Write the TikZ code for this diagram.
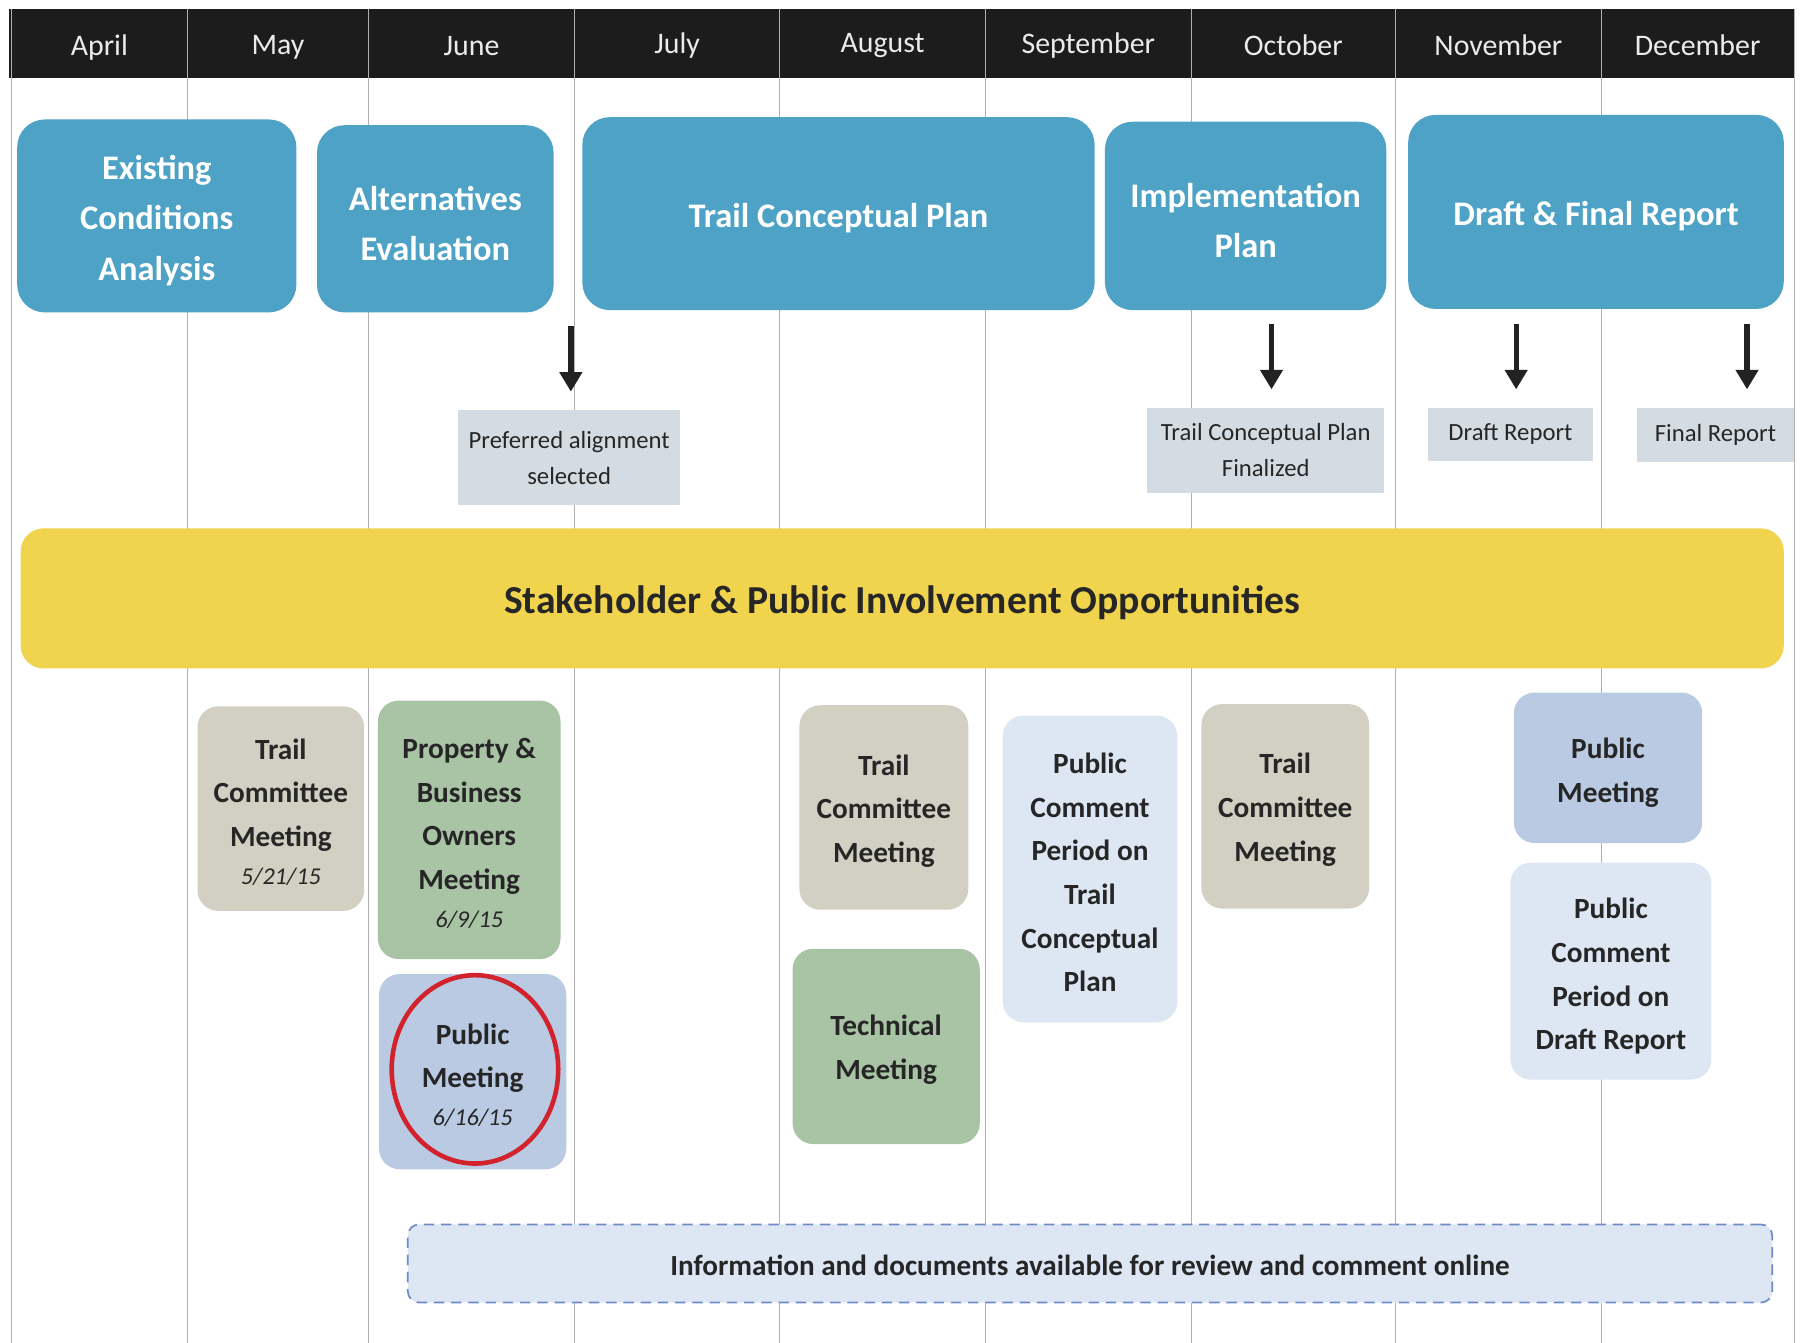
\documentclass[tikz,border=0pt]{standalone}
\usepackage{fontspec}
\setmainfont{Carlito}
\usetikzlibrary{arrows.meta,shapes.geometric}
\definecolor{hdr}{RGB}{28,28,28}
\definecolor{gridc}{RGB}{175,175,175}
\definecolor{phaseblue}{RGB}{78,162,197}
\definecolor{milegray}{RGB}{212,220,227}
\definecolor{band}{RGB}{241,212,78}
\definecolor{tcmc}{RGB}{209,208,194}
\definecolor{grnc}{RGB}{168,196,165}
\definecolor{pmc}{RGB}{186,202,227}
\definecolor{pcpc}{RGB}{221,231,244}
\definecolor{onl}{RGB}{221,231,244}
\definecolor{onlb}{RGB}{112,138,200}
\definecolor{ink}{RGB}{38,38,38}
\definecolor{redc}{RGB}{210,35,45}
\definecolor{arrc}{RGB}{34,34,34}
\begin{document}
\begin{tikzpicture}[x=1pt,y=-1pt,
  month/.style={text=white!92!black, font=\fontsize{26}{30}\selectfont, inner sep=0},
  gridline/.style={draw=gridc, line width=1pt},
  phase/.style={rounded corners=24pt, fill=phaseblue, inner sep=0},
  ptxt/.style={text=white, font=\bfseries\fontsize{30}{44}\selectfont, align=center, inner sep=0, yshift=-4pt},
  mile/.style={fill=milegray, text=ink, font=\fontsize{21.5}{31}\selectfont, align=center, inner sep=0},
  bandbox/.style={rounded corners=20pt, fill=band, inner sep=0},
  btxt/.style={text=ink, font=\bfseries\fontsize{34.5}{40}\selectfont, inner sep=0, yshift=-4pt},
  meet/.style={rounded corners=18pt, inner sep=0},
  mtxt/.style={text=ink, font=\bfseries\fontsize{25.5}{38}\selectfont, align=center, inner sep=0, yshift=-3pt},
  tcm/.style={meet, fill=tcmc},
  grn/.style={meet, fill=grnc},
  pmb/.style={meet, fill=pmc},
  pcp/.style={meet, fill=pcpc},
  otxt/.style={text=ink, font=\bfseries\fontsize{25.4}{30}\selectfont, inner sep=0, yshift=-2pt},
  arr/.style={draw=arrc, line width=4.6pt, -{Triangle[width=19pt,length=17pt]}},
]
\useasboundingbox (0,0) rectangle (1568,1169);
\fill[white] (0,0) rectangle (1568,1169);

% header band
\fill[hdr] (8,8) rectangle (1562,68);
% grid lines
\foreach \gx in {10,163,321,500,679,858,1037,1215,1394,1562}
  \draw[gridline] (\gx,8) -- (\gx,1169);

% month labels
\node[month] (m1) at (86.5,41) {April};
\node[month] (m2) at (242,41) {May};
\node[month] (m3) at (410.5,40) {June};
\node[month] (m4) at (589.5,40) {July};
\node[month] (m5) at (768.5,40) {August};
\node[month] (m6) at (947.5,39.5) {September};
\node[month] (m7) at (1126,39.5) {October};
\node[month] (m8) at (1304.5,39.5) {November};
\node[month] (m9) at (1478,39.5) {December};

% phases
\node[phase, minimum width=243pt, minimum height=168pt, label={[ptxt]center:{Existing\\Conditions\\Analysis}}] (eca) at (136.5,188) {};
\node[phase, minimum width=206pt, minimum height=163pt, label={[ptxt]center:{Alternatives\\Evaluation}}] (alt) at (379,190.5) {};
\node[phase, minimum width=446pt, minimum height=168pt, label={[ptxt]center:{Trail Conceptual Plan}}] (tcp) at (730,186) {};
\node[phase, minimum width=245pt, minimum height=164pt, label={[ptxt]center:{Implementation\\Plan}}] (imp) at (1084.5,188) {};
\node[phase, minimum width=327pt, minimum height=169pt, label={[ptxt]center:{Draft \& Final Report}}] (dfr) at (1389.5,184.5) {};

% milestones
\node[mile, minimum width=193pt, minimum height=83pt] (pref) at (495.5,398.5) {Preferred alignment\\selected};
\node[mile, minimum width=206pt, minimum height=74pt] (tcpf) at (1102,392) {Trail Conceptual Plan\\Finalized};
\node[mile, minimum width=144pt, minimum height=46pt] (dr) at (1315,378) {Draft Report};
\node[mile, minimum width=137pt, minimum height=47pt] (fr) at (1493.5,378.5) {Final Report};

% arrows
\coordinate (a1s) at (497,284);  \coordinate (a1e) at (497,341);
\coordinate (a2s) at (1107,282); \coordinate (a2e) at (1107,339);
\coordinate (a3s) at (1320,282); \coordinate (a3e) at (1320,339);
\coordinate (a4s) at (1521,282); \coordinate (a4e) at (1521,339);
\draw[arr] (a1s) -- (a1e);
\draw[arr] (a2s) -- (a2e);
\draw[arr] (a3s) -- (a3e);
\draw[arr] (a4s) -- (a4e);

% stakeholder band
\node[bandbox, minimum width=1535pt, minimum height=122pt, label={[btxt]center:{Stakeholder \& Public Involvement Opportunities}}] (band) at (785.5,521) {};

% meetings
\node[tcm, minimum width=145pt, minimum height=178pt, label={[mtxt]center:{Trail\\Committee\\Meeting\\[-5pt]{\mdseries\itshape\fontsize{21}{24}\selectfont 5/21/15}}}] (tc1) at (244.5,704) {};
\node[grn, minimum width=159pt, minimum height=225pt, label={[mtxt]center:{Property \&\\Business\\Owners\\Meeting\\[-5pt]{\mdseries\itshape\fontsize{21}{24}\selectfont 6/9/15}}}] (pbo) at (408.5,722.5) {};
\node[pmb, minimum width=163pt, minimum height=170pt, label={[mtxt]center:{Public\\Meeting\\[-5pt]{\mdseries\itshape\fontsize{21}{24}\selectfont 6/16/15}}}] (pm1) at (411.5,933) {};
\node[ellipse, draw=redc, line width=4pt, minimum width=145pt, minimum height=164pt, inner sep=0] (ring) at (413.5,931) {};
\node[tcm, minimum width=147pt, minimum height=178pt, label={[mtxt]center:{Trail\\Committee\\Meeting}}] (tc2) at (769.5,703) {};
\node[grn, minimum width=163pt, minimum height=170pt, label={[mtxt]center:{Technical\\Meeting}}] (tm) at (771.5,911) {};
\node[pcp, minimum width=152pt, minimum height=267pt, label={[mtxt]center:{Public\\Comment\\Period on\\Trail\\Conceptual\\Plan}}] (pcp1) at (949,756.5) {};
\node[tcm, minimum width=146pt, minimum height=178pt, label={[mtxt]center:{Trail\\Committee\\Meeting}}] (tc3) at (1119,702) {};
\node[pmb, minimum width=164pt, minimum height=131pt, label={[mtxt, yshift=-1pt]center:{Public\\Meeting}}] (pm2) at (1400,668.5) {};
\node[pcp, minimum width=175pt, minimum height=189pt, label={[mtxt, yshift=-1.5pt]center:{Public\\Comment\\Period on\\Draft Report}}] (pcp2) at (1402.5,845.5) {};

% online box
\node[rounded corners=10pt, fill=onl, draw=onlb, line width=1.5pt, dash pattern=on 9pt off 6pt, minimum width=1188pt, minimum height=68pt, inner sep=0, label={[otxt]center:{Information and documents available for review and comment online}}] (online) at (949,1100) {};
\end{tikzpicture}
\end{document}
